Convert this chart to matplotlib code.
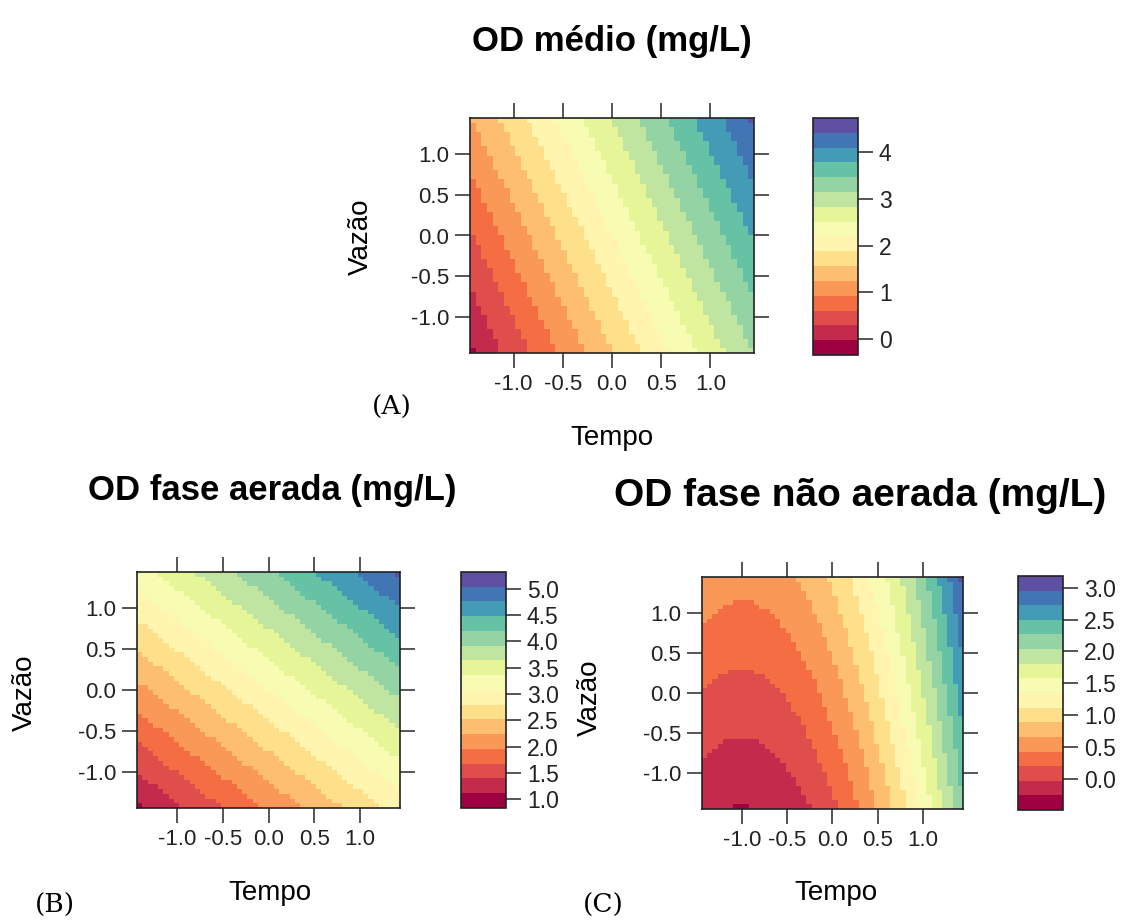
import numpy as np
import matplotlib.pyplot as plt
from matplotlib.colors import BoundaryNorm

plt.rcParams['font.family'] = ['Liberation Sans', 'DejaVu Sans']
plt.rcParams['axes.unicode_minus'] = False

# coded levels of the rotatable design (axial point = 1.414)
tempo = np.linspace(-1.414, 1.414, 50)
vazao = np.linspace(-1.414, 1.414, 50)

# response surface coefficients: b0, Tempo, Vazao, Tempo^2, Vazao^2, Tempo*Vazao
coef_medio = [2.195, 1.12, 0.45, 0.0, 0.0, 0.0]
coef_aerada = [3.075, 0.64, 0.75, 0.0, 0.0, 0.0]
coef_nao_aerada = [0.547, 0.84, 0.27, 0.42, 0.0, 0.0]

axis_ticks = [-1.0, -0.5, 0.0, 0.5, 1.0]
axis_labels = ['-1.0', '-0.5', '0.0', '0.5', '1.0']
cb_ticks_medio = [0, 1, 2, 3, 4]
cb_ticks_aerada = [1.0, 1.5, 2.0, 2.5, 3.0, 3.5, 4.0, 4.5, 5.0]
cb_ticks_nao_aerada = [0.0, 0.5, 1.0, 1.5, 2.0, 2.5, 3.0]

W, H = 1123, 921
fig = plt.figure(figsize=(W / 100, H / 100), dpi=100)


def box(x0, y0, x1, y1):
    # pixel box -> figure fraction rect
    return [x0 / W, 1 - y1 / H, (x1 - x0) / W, (y1 - y0) / H]


def surface(c):
    T, V = np.meshgrid(tempo, vazao)
    return c[0] + c[1] * T + c[2] * V + c[3] * T**2 + c[4] * V**2 + c[5] * T * V


def panel(ax_box, cb_box, coef, cb_ticks, cb_fmt):
    ax = fig.add_axes(box(*ax_box))
    cax = fig.add_axes(box(*cb_box))
    z = surface(coef)
    lo, hi = z.min(), z.max()
    pad = 0.07 * (hi - lo)
    levels = np.linspace(lo - pad, hi + pad, 17)
    cmap = plt.get_cmap('Spectral', 16)
    norm = BoundaryNorm(levels, 16)
    mesh = ax.pcolormesh(tempo, vazao, z, cmap=cmap, norm=norm, shading='nearest')

    ax.set_xticks(axis_ticks)
    ax.set_xticklabels(axis_labels)
    ax.set_yticks(axis_ticks)
    ax.set_yticklabels(axis_labels)
    ax.tick_params(direction='out', length=11, width=1.4, top=True, right=True,
                   labelsize=16, color='#555555', labelcolor='#222222', pad=4)
    for s in ax.spines.values():
        s.set_linewidth(1.2)
        s.set_color('#222222')

    cb = fig.colorbar(mesh, cax=cax, ticks=cb_ticks)
    cb.set_ticklabels([cb_fmt.format(t) for t in cb_ticks])
    cb.outline.set_linewidth(1.2)
    cb.outline.set_edgecolor('#222222')
    cax.tick_params(direction='out', length=11, width=1.4, labelsize=16.5,
                    color='#555555', labelcolor='#222222', pad=4)
    cax.minorticks_off()
    return ax


def label(px, py, s, **kw):
    fig.text(px / W, 1 - py / H, s, ha='center', va='center', **kw)


# (A) OD medio
panel((470, 118, 754, 353), (813, 118, 858, 355), coef_medio, cb_ticks_medio, '{:.0f}')
label(612, 42, 'OD médio (mg/L)', fontsize=25, fontweight='bold')
label(612, 438, 'Tempo', fontsize=20)
label(361, 237, 'Vazão', fontsize=20, rotation=90)
label(392, 407, '(A)', fontsize=19, family='DejaVu Serif')

# (B) OD fase aerada
panel((137, 572, 400, 808), (461, 572, 506, 808), coef_aerada, cb_ticks_aerada, '{:.1f}')
label(272, 490, 'OD fase aerada (mg/L)', fontsize=25, fontweight='bold')
label(270, 893, 'Tempo', fontsize=20)
label(25, 693, 'Vazão', fontsize=20, rotation=90)
label(55, 905, '(B)', fontsize=19, family='DejaVu Serif')

# (C) OD fase nao aerada
panel((702, 577, 963, 809), (1018, 576, 1063, 810), coef_nao_aerada, cb_ticks_nao_aerada, '{:.1f}')
label(860, 496, 'OD fase não aerada (mg/L)', fontsize=28, fontweight='bold')
label(836, 893, 'Tempo', fontsize=20)
label(590, 698, 'Vazão', fontsize=20, rotation=90)
label(603, 905, '(C)', fontsize=19, family='DejaVu Serif')

fig.savefig('out.png', dpi=100)
